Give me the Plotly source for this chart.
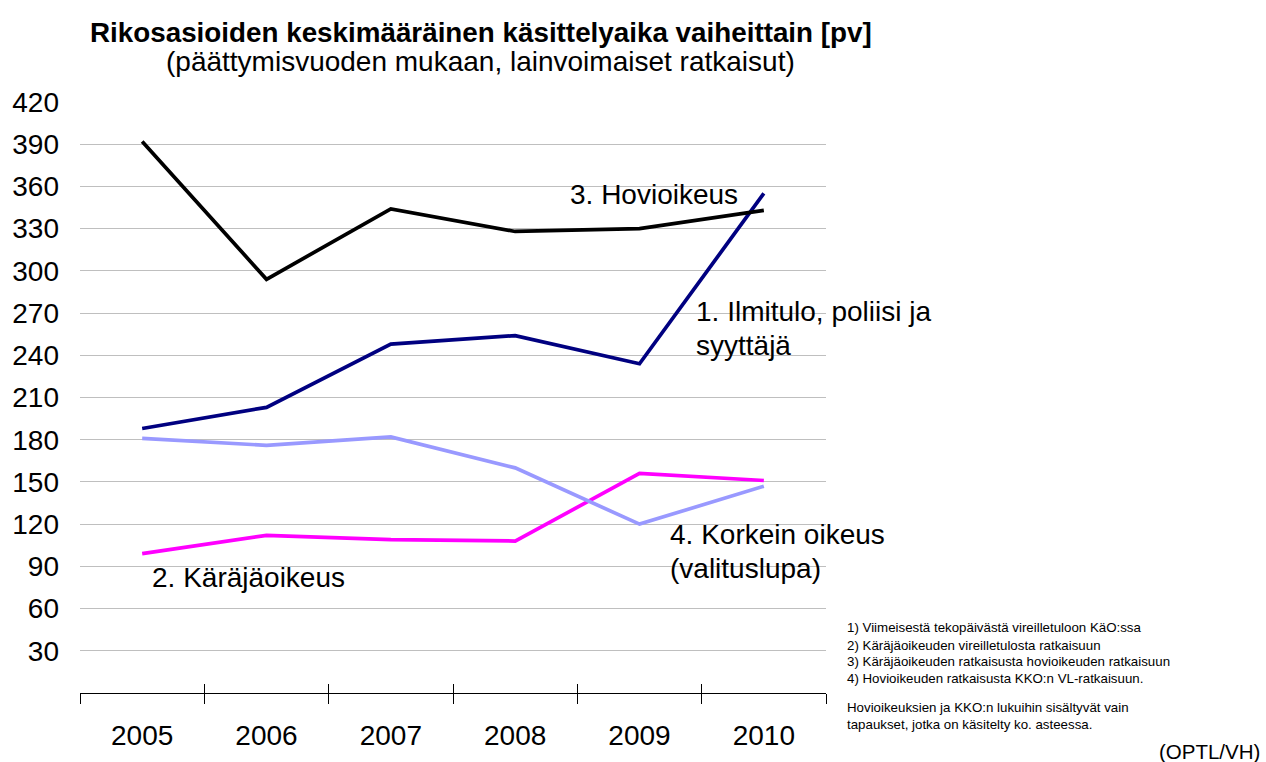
import plotly.graph_objects as go

years = ["2005", "2006", "2007", "2008", "2009", "2010"]
ilmitulo = [188, 203, 248, 254, 234, 355]
karajaoikeus = [99, 112, 109, 108, 156, 151]
hovioikeus = [392, 294, 344, 328, 330, 343]
korkein = [181, 176, 182, 160, 120, 147]
y_ticks = [30, 60, 90, 120, 150, 180, 210, 240, 270, 300, 330, 360, 390, 420]

FONT = "Arial, Liberation Sans, sans-serif"

fig = go.Figure()
series = [
    ("1. Ilmitulo, poliisi ja syyttäjä", ilmitulo, "#000080"),
    ("2. Käräjäoikeus", karajaoikeus, "#FF00FF"),
    ("3. Hovioikeus", hovioikeus, "#000000"),
    ("4. Korkein oikeus", korkein, "#9999FF"),
]
for name, vals, col in series:
    fig.add_trace(go.Scatter(x=years, y=vals, mode="lines", name=name,
                             line=dict(color=col, width=3.7), showlegend=False))

# invisible trace for the overlay axis (inside ticks)
fig.add_trace(go.Scatter(x=years, y=[None]*6, xaxis="x2", showlegend=False, hoverinfo="skip"))

fig.update_layout(
    width=1266, height=762,
    margin=dict(l=80, r=440, t=102, b=69),
    paper_bgcolor="white", plot_bgcolor="white",
    font=dict(family=FONT, size=28, color="black"),
    xaxis=dict(type="category", categoryarray=years, range=[-0.5, 5.5],
               showgrid=False, showline=True, linecolor="black", linewidth=1.3,
               ticks="outside", ticklen=10, tickcolor="black", tickwidth=1.3,
               tickson="boundaries", ticklabelstandoff=17, automargin=False,
               tickfont=dict(size=28)),
    xaxis2=dict(type="category", categoryarray=years, range=[-0.5, 5.5],
                overlaying="x", anchor="y", side="bottom",
                showgrid=False, showline=False, ticks="inside", ticklen=9,
                tickcolor="black", tickwidth=1.3, tickson="boundaries",
                showticklabels=False, automargin=False),
    yaxis=dict(range=[0, 420], tickvals=y_ticks, showgrid=True,
               gridcolor="#BFBFBF", gridwidth=1.3, zeroline=False, showline=False,
               ticks="", ticklabelstandoff=20, automargin=False,
               tickfont=dict(size=28)),
)

def ann(text, x, y, size=28, xanchor="left", bold=False):
    fig.add_annotation(text=f"<b>{text}</b>" if bold else text, x=x, y=y,
                       xref="paper", yref="paper", xanchor=xanchor, yanchor="middle",
                       showarrow=False, font=dict(family=FONT, size=size, color="black"))

ann("Rikosasioiden keskimääräinen käsittelyaika vaiheittain [pv]", 0.5375, 1.118, size=27.8, xanchor="center", bold=True)
ann("(päättymisvuoden mukaan, lainvoimaiset ratkaisut)", 0.5375, 1.0677, size=28, xanchor="center")

ann("3. Hovioikeus", 0.654, 0.843)
ann("1. Ilmitulo, poliisi ja", 0.823, 0.6447)
ann("syyttäjä", 0.823, 0.5888)
ann("4. Korkein oikeus", 0.788, 0.269)
ann("(valituslupa)", 0.788, 0.2115)
ann("2. Käräjäoikeus", 0.0938, 0.196)

notes = [
    ("1) Viimeisestä tekopäivästä vireilletuloon KäO:ssa", 0.110),
    ("2) Käräjäoikeuden vireilletulosta ratkaisuun", 0.0812),
    ("3) Käräjäoikeuden ratkaisusta hovioikeuden ratkaisuun", 0.0525),
    ("4) Hovioikeuden ratkaisusta KKO:n VL-ratkaisuun.", 0.0237),
    ("Hovioikeuksien ja KKO:n lukuihin sisältyvät vain", -0.0237),
    ("tapaukset, jotka on käsitelty ko. asteessa.", -0.0525),
]
for t, y in notes:
    ann(t, 1.0255, y, size=13.3)

ann("(OPTL/VH)", 1.584, -0.0998, size=20.5, xanchor="right")

fig.write_html("out.html", config={"displayModeBar": False},
               post_script="document.body.style.margin='0px';")
